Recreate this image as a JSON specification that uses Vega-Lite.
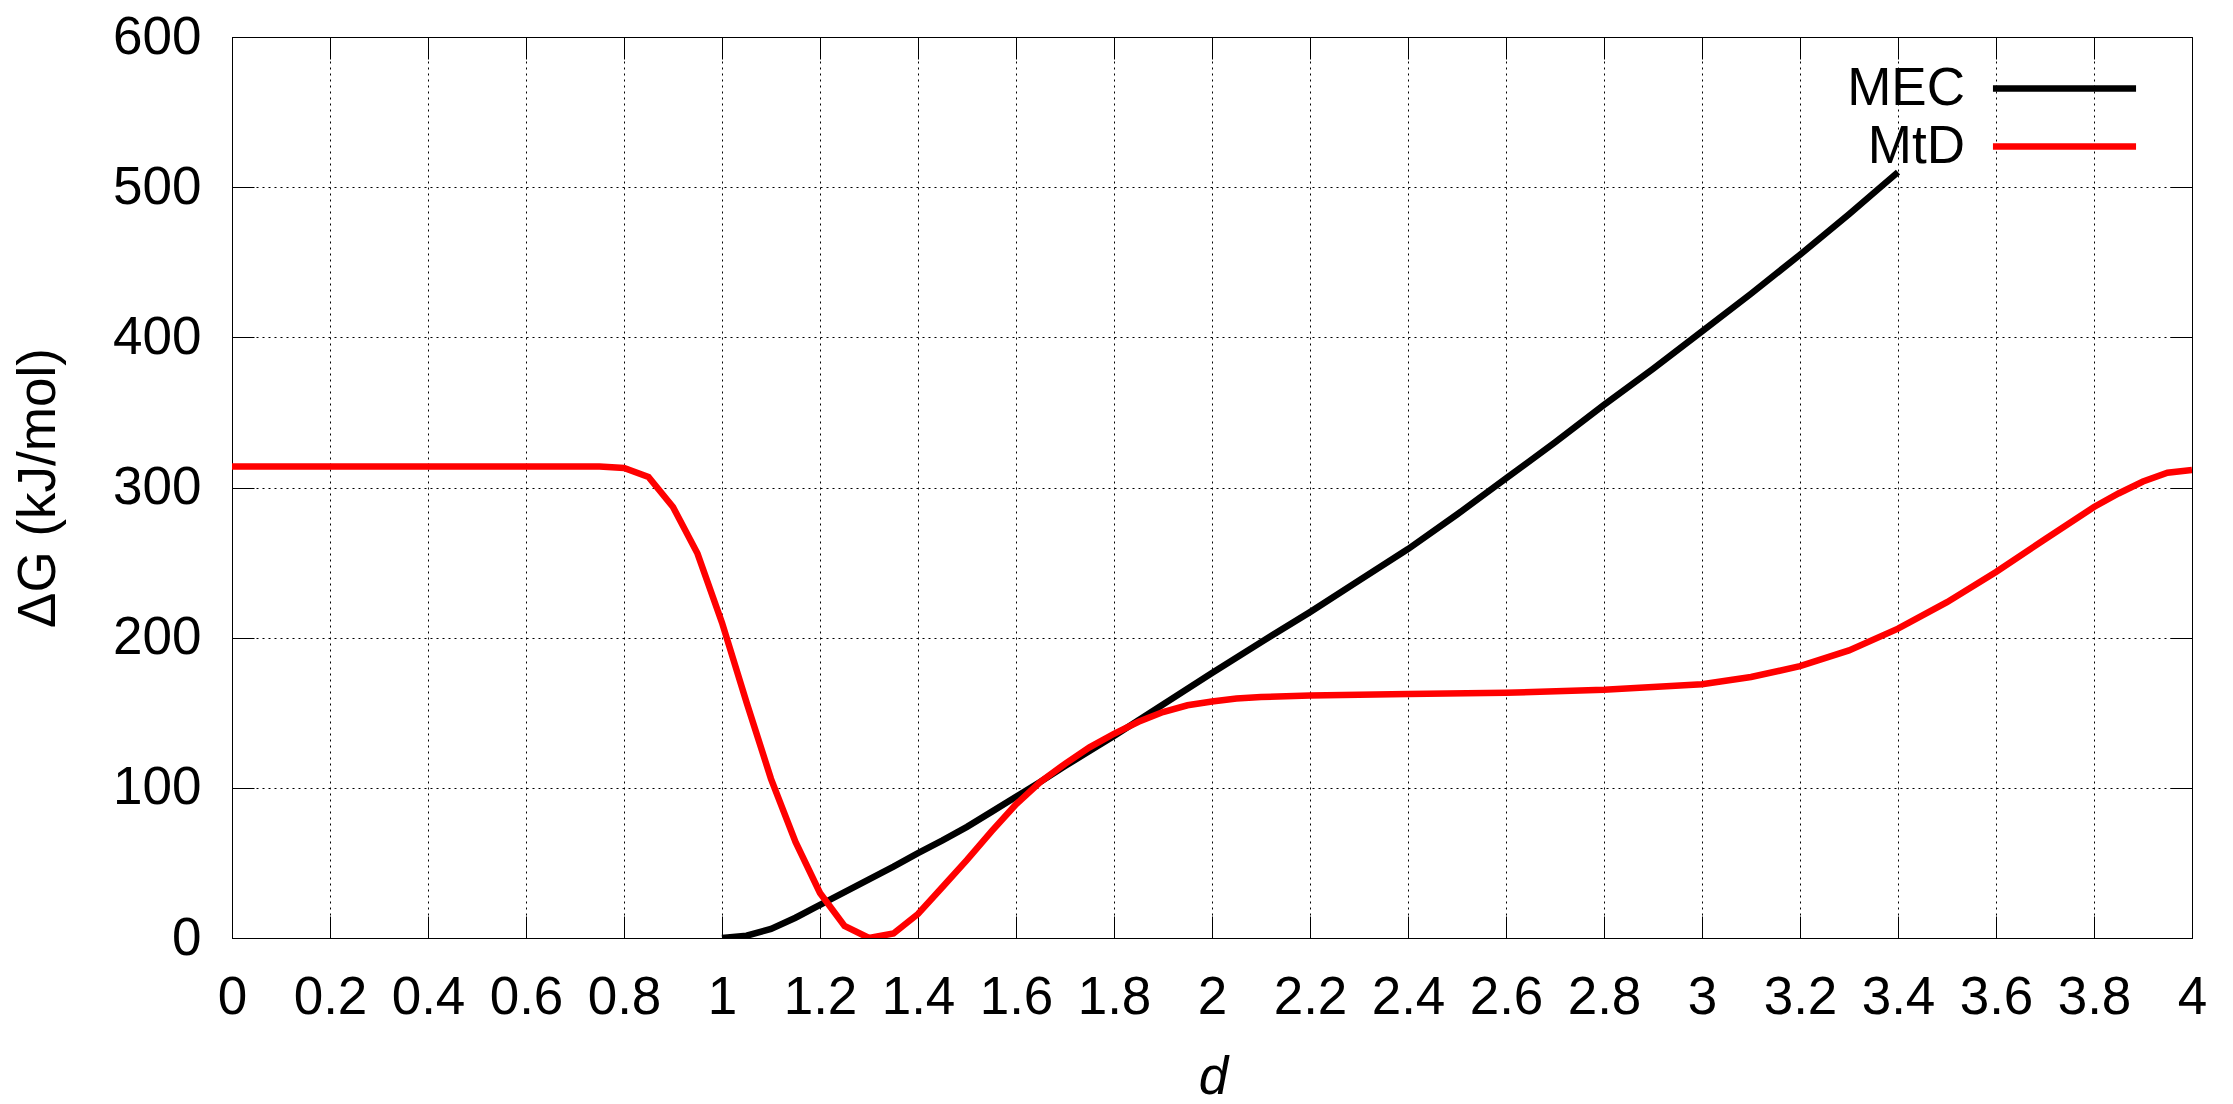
{
  "$schema": "https://vega.github.io/schema/vega-lite/v6.json",
  "width": 1960,
  "height": 901,
  "autosize": {"type": "none"},
  "padding": {"left": 232, "top": 37, "right": 41, "bottom": 166},
  "background": "white",
  "config": {
    "view": {"stroke": "black", "strokeWidth": 1},
    "font": "Liberation Sans"
  },
  "data": {
    "values": [
      {"d": 1.0, "G": 0, "series": "MEC"},
      {"d": 1.05, "G": 1.5, "series": "MEC"},
      {"d": 1.1, "G": 6, "series": "MEC"},
      {"d": 1.15, "G": 13.5, "series": "MEC"},
      {"d": 1.2, "G": 22, "series": "MEC"},
      {"d": 1.25, "G": 30.5, "series": "MEC"},
      {"d": 1.3, "G": 39, "series": "MEC"},
      {"d": 1.35, "G": 47.5, "series": "MEC"},
      {"d": 1.4, "G": 56.5, "series": "MEC"},
      {"d": 1.45, "G": 65, "series": "MEC"},
      {"d": 1.5, "G": 74, "series": "MEC"},
      {"d": 1.55, "G": 84, "series": "MEC"},
      {"d": 1.6, "G": 94, "series": "MEC"},
      {"d": 1.65, "G": 104, "series": "MEC"},
      {"d": 1.7, "G": 114.5, "series": "MEC"},
      {"d": 1.75, "G": 124.5, "series": "MEC"},
      {"d": 1.8, "G": 134.5, "series": "MEC"},
      {"d": 1.85, "G": 145, "series": "MEC"},
      {"d": 1.9, "G": 155.5, "series": "MEC"},
      {"d": 1.95, "G": 166, "series": "MEC"},
      {"d": 2.0, "G": 176.5, "series": "MEC"},
      {"d": 2.1, "G": 197, "series": "MEC"},
      {"d": 2.2, "G": 217, "series": "MEC"},
      {"d": 2.3, "G": 238, "series": "MEC"},
      {"d": 2.4, "G": 259, "series": "MEC"},
      {"d": 2.5, "G": 282, "series": "MEC"},
      {"d": 2.6, "G": 306, "series": "MEC"},
      {"d": 2.7, "G": 330, "series": "MEC"},
      {"d": 2.8, "G": 355, "series": "MEC"},
      {"d": 2.9, "G": 379, "series": "MEC"},
      {"d": 3.0, "G": 404, "series": "MEC"},
      {"d": 3.1, "G": 429, "series": "MEC"},
      {"d": 3.2, "G": 455, "series": "MEC"},
      {"d": 3.3, "G": 482, "series": "MEC"},
      {"d": 3.4, "G": 510, "series": "MEC"},
      {"d": 0.0, "G": 314, "series": "MtD"},
      {"d": 0.7, "G": 314, "series": "MtD"},
      {"d": 0.75, "G": 314, "series": "MtD"},
      {"d": 0.8, "G": 313, "series": "MtD"},
      {"d": 0.85, "G": 307, "series": "MtD"},
      {"d": 0.9, "G": 287, "series": "MtD"},
      {"d": 0.95, "G": 256, "series": "MtD"},
      {"d": 1.0, "G": 210, "series": "MtD"},
      {"d": 1.05, "G": 157, "series": "MtD"},
      {"d": 1.1, "G": 106, "series": "MtD"},
      {"d": 1.15, "G": 64, "series": "MtD"},
      {"d": 1.2, "G": 30, "series": "MtD"},
      {"d": 1.25, "G": 8, "series": "MtD"},
      {"d": 1.3, "G": 0, "series": "MtD"},
      {"d": 1.35, "G": 3, "series": "MtD"},
      {"d": 1.4, "G": 16, "series": "MtD"},
      {"d": 1.45, "G": 34, "series": "MtD"},
      {"d": 1.5, "G": 52, "series": "MtD"},
      {"d": 1.55, "G": 71, "series": "MtD"},
      {"d": 1.6, "G": 89, "series": "MtD"},
      {"d": 1.65, "G": 104, "series": "MtD"},
      {"d": 1.7, "G": 116, "series": "MtD"},
      {"d": 1.75, "G": 127, "series": "MtD"},
      {"d": 1.8, "G": 136, "series": "MtD"},
      {"d": 1.85, "G": 144, "series": "MtD"},
      {"d": 1.9, "G": 150.5, "series": "MtD"},
      {"d": 1.95, "G": 155, "series": "MtD"},
      {"d": 2.0, "G": 157.5, "series": "MtD"},
      {"d": 2.05, "G": 159.5, "series": "MtD"},
      {"d": 2.1, "G": 160.5, "series": "MtD"},
      {"d": 2.2, "G": 161.5, "series": "MtD"},
      {"d": 2.4, "G": 162.5, "series": "MtD"},
      {"d": 2.6, "G": 163.3, "series": "MtD"},
      {"d": 2.8, "G": 165.3, "series": "MtD"},
      {"d": 3.0, "G": 169, "series": "MtD"},
      {"d": 3.1, "G": 173.8, "series": "MtD"},
      {"d": 3.2, "G": 181, "series": "MtD"},
      {"d": 3.3, "G": 191.5, "series": "MtD"},
      {"d": 3.4, "G": 206, "series": "MtD"},
      {"d": 3.5, "G": 223.6, "series": "MtD"},
      {"d": 3.6, "G": 243.8, "series": "MtD"},
      {"d": 3.7, "G": 265.5, "series": "MtD"},
      {"d": 3.8, "G": 287, "series": "MtD"},
      {"d": 3.85, "G": 296, "series": "MtD"},
      {"d": 3.9, "G": 304, "series": "MtD"},
      {"d": 3.95, "G": 309.8, "series": "MtD"},
      {"d": 4.0, "G": 311.6, "series": "MtD"}
    ]
  },
  "resolve": {"axis": {"x": "independent", "y": "independent"}},
  "layer": [
    {
      "transform": [{"filter": "datum.series === 'MEC'"}],
      "mark": {"type": "line", "strokeWidth": 6.5, "clip": true},
      "encoding": {
        "x": {
          "field": "d", "type": "quantitative",
          "scale": {"domain": [0, 4], "nice": false, "zero": false},
          "axis": {
            "orient": "bottom",
            "values": [0, 0.2, 0.4, 0.6, 0.8, 1, 1.2, 1.4, 1.6, 1.8, 2, 2.2, 2.4, 2.6, 2.8, 3, 3.2, 3.4, 3.6, 3.8, 4],
            "format": "~g",
            "domain": false,
            "grid": true, "gridColor": "black", "gridDash": [2, 4], "gridWidth": 1, "gridOpacity": 1,
            "ticks": true, "tickSize": -22, "tickColor": "black", "tickWidth": 1,
            "labelFont": "Liberation Sans", "labelFontSize": 53, "labelColor": "black",
            "labelBaseline": "alphabetic", "labelPadding": 97, "labelFlush": false, "labelOverlap": false,
            "title": "d", "titleFont": "Liberation Sans", "titleFontSize": 53, "titleFontStyle": "italic",
            "titleFontWeight": "normal", "titleColor": "black",
            "titleX": 981, "titleY": 155, "titleAlign": "center", "titleBaseline": "alphabetic"
          }
        },
        "y": {
          "field": "G", "type": "quantitative",
          "scale": {"domain": [0, 600], "nice": false},
          "axis": {
            "orient": "left",
            "values": [0, 100, 200, 300, 400, 500, 600],
            "format": "d",
            "domain": false,
            "grid": true, "gridColor": "black", "gridDash": [2, 4], "gridWidth": 1, "gridOpacity": 1,
            "ticks": true, "tickSize": -22, "tickColor": "black", "tickWidth": 1,
            "labelFont": "Liberation Sans", "labelFontSize": 53, "labelColor": "black",
            "labelPadding": 53, "labelFlush": false, "labelOverlap": false,
            "title": "ΔG (kJ/mol)", "titleFont": "Liberation Sans", "titleFontSize": 53,
            "titleFontWeight": "normal", "titleColor": "black",
            "titleX": -194, "titleY": 450.5, "titleAngle": 270, "titleAlign": "center", "titleBaseline": "middle"
          }
        },
        "color": {
          "field": "series", "type": "nominal",
          "scale": {"domain": ["MEC", "MtD"], "range": ["black", "red"]},
          "legend": {
            "orient": "none", "legendX": 1802, "legendY": 21,
            "title": null, "padding": 0, "rowPadding": 0,
            "symbolType": "M-2.65,0H2.65", "symbolSize": 2916, "symbolStrokeWidth": 6.5,
            "labelFont": "Liberation Sans", "labelFontSize": 53, "labelColor": "black",
            "labelAlign": "right", "labelBaseline": "middle", "labelOffset": -130,
            "labelLimit": 0
          }
        }
      }
    },
    {
      "transform": [{"filter": "datum.series === 'MtD'"}],
      "mark": {"type": "line", "strokeWidth": 6.5, "clip": true},
      "encoding": {
        "x": {
          "field": "d", "type": "quantitative",
          "axis": {
            "orient": "top",
            "values": [0, 0.2, 0.4, 0.6, 0.8, 1, 1.2, 1.4, 1.6, 1.8, 2, 2.2, 2.4, 2.6, 2.8, 3, 3.2, 3.4, 3.6, 3.8, 4],
            "labels": false, "domain": false, "grid": false,
            "ticks": true, "tickSize": -22, "tickColor": "black", "tickWidth": 1,
            "title": null
          }
        },
        "y": {
          "field": "G", "type": "quantitative",
          "axis": {
            "orient": "right",
            "values": [0, 100, 200, 300, 400, 500, 600],
            "labels": false, "domain": false, "grid": false,
            "ticks": true, "tickSize": -22, "tickColor": "black", "tickWidth": 1,
            "title": null
          }
        },
        "color": {"field": "series", "type": "nominal"}
      }
    }
  ]
}
